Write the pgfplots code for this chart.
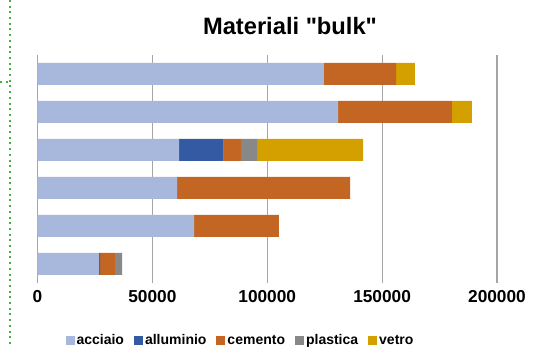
\documentclass[border=0pt]{standalone}
\usepackage{fontspec}
\setmainfont{Liberation Sans}[Ligatures=TeXOff]
\usepackage{pgfplots}
\pgfplotsset{compat=1.18}

\definecolor{cAcciaio}{RGB}{168,183,220}
\definecolor{cAlluminio}{RGB}{52,90,163}
\definecolor{cCemento}{RGB}{196,102,35}
\definecolor{cPlastica}{RGB}{136,136,136}
\definecolor{cVetro}{RGB}{212,160,0}
\definecolor{cGrid}{RGB}{165,165,165}
\definecolor{cGuide}{RGB}{70,175,70}

\newcommand{\tl}[1]{\textbf{#1}}

\begin{document}
\begin{tikzpicture}
\useasboundingbox (0pt,0pt) rectangle (539pt,347pt);

% dotted guide on the left edge
\draw[cGuide, line width=2pt, dash pattern=on 2pt off 3.7pt] (9.5pt,347pt) -- (9.5pt,0pt);
\draw[cGuide, line width=2pt, dash pattern=on 2pt off 3.7pt] (0pt,265.3pt) -- (9.5pt,265.3pt);

\begin{axis}[
  at={(37.5pt,64pt)}, anchor=south west,
  scale only axis, width=459.5pt, height=228pt,
  xbar stacked, bar width=22pt,
  xmin=0, xmax=200000, ymin=-0.5, ymax=5.5,
  ytick=\empty,
  scaled x ticks=false,
  xtick={0,50000,100000,150000,200000},
  xticklabels={\tl{0},\tl{50000},\tl{100000},\tl{150000},\tl{200000}},
  tick label style={font=\fontsize{17.3}{20}\selectfont\bfseries},
  xticklabel style={yshift=-4pt},
  axis line style={draw=none},
  tick style={draw=none},
  xmajorgrids,
  major grid style={cGrid, line width=1.2pt},
  legend columns=5,
  legend image code/.code={\fill[#1] (0pt,-4.5pt) rectangle (9pt,4.5pt);},
  legend style={
    at={(0.4418,-0.253)}, anchor=center, draw=none, fill=none,
    font=\fontsize{14}{16}\selectfont\bfseries,
    nodes={inner xsep=2pt, inner ysep=0pt},
    /tikz/every even column/.append style={column sep=8pt},
  },
]
\addplot[fill=cAcciaio, draw=none] coordinates
  {(26770,0) (68120,1) (60720,2) (61590,3) (130800,4) (124700,5)};
\addplot[fill=cAlluminio, draw=none] coordinates
  {(450,0) (0,1) (0,2) (19450,3) (0,4) (0,5)};
\addplot[fill=cCemento, draw=none] coordinates
  {(6510,0) (36980,1) (75300,2) (7540,3) (49600,4) (31340,5)};
\addplot[fill=cPlastica, draw=none] coordinates
  {(3050,0) (0,1) (0,2) (6960,3) (0,4) (0,5)};
\addplot[fill=cVetro, draw=none] coordinates
  {(0,0) (0,1) (0,2) (46140,3) (8700,4) (8260,5)};
\legend{acciaio,alluminio,cemento,plastica,vetro}
\end{axis}

\node[anchor=base, font=\fontsize{23.7}{28}\selectfont\bfseries] at (290pt,312pt) {Materiali "bulk"};
\end{tikzpicture}
\end{document}
